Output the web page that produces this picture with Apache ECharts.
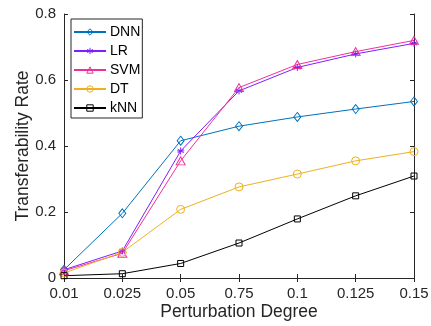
<!DOCTYPE html>
<html>
<head>
<meta charset="utf-8">
<script src="https://cdn.jsdelivr.net/npm/echarts@6/dist/echarts.min.js"></script>
<style>
  html, body { margin: 0; padding: 0; background: #fff; }
  #chart { width: 431px; height: 326px; }
</style>
</head>
<body>
<div id="chart"></div>
<script>
const degrees = ["0.01", "0.025", "0.05", "0.75", "0.1", "0.125", "0.15"];
const dnn = [0.025, 0.196, 0.416, 0.46, 0.488, 0.512, 0.535];
const lr = [0.025, 0.082, 0.385, 0.567, 0.638, 0.679, 0.711];
const svm = [0.022, 0.075, 0.355, 0.577, 0.647, 0.686, 0.72];
const dt = [0.015, 0.078, 0.208, 0.276, 0.315, 0.355, 0.383];
const knn = [0.007, 0.013, 0.044, 0.106, 0.179, 0.249, 0.309];
const yTicks = [0, 0.2, 0.4, 0.6, 0.8];

const FONT = "Liberation Sans, Arial, sans-serif";
const asterisk = "path://M0,-5L0,5M-4.33,-2.5L4.33,2.5M-4.33,2.5L4.33,-2.5M-5,0L5,0";
const colors = { DNN: "#0072BD", LR: "#7F1FFF", SVM: "#F0309A", DT: "#EDB120", kNN: "#000000" };

function makeSeries(name, data, symbol, size) {
  return {
    name: name,
    type: "line",
    data: data,
    symbol: symbol,
    symbolSize: size,
    showAllSymbol: true,
    lineStyle: { color: colors[name], width: 1 },
    itemStyle: { color: "rgba(0,0,0,0)", borderColor: colors[name], borderWidth: 1 },
    emphasis: { disabled: true },
    animation: false
  };
}

const chart = echarts.init(document.getElementById("chart"));
const axisText = { color: "#262626", fontFamily: FONT, fontSize: 15 };
chart.setOption({
  backgroundColor: "#fff",
  grid: { left: 64, right: 17, top: 14, bottom: 48, outerBoundsMode: "none" },
  legend: {
    orient: "vertical",
    left: 71,
    top: 19,
    padding: [6, 2, 3, 2],
    itemGap: 5,
    itemWidth: 32,
    itemHeight: 8,
    backgroundColor: "#fff",
    borderColor: "#262626",
    borderWidth: 1,
    textStyle: { color: "#000", fontFamily: FONT, fontSize: 14, lineHeight: 14, padding: [0, 0, 0, -1] },
    data: ["DNN", "LR", "SVM", "DT", "kNN"].map(function (n) {
      return { name: n, itemStyle: { color: "rgba(0,0,0,0)", borderColor: colors[n], borderWidth: 1 } };
    })
  },
  xAxis: [
    {
      type: "category",
      data: degrees,
      boundaryGap: false,
      name: "Perturbation Degree",
      nameLocation: "middle",
      nameGap: 25,
      nameMoveOverlap: false,
      nameTextStyle: { color: "#262626", fontFamily: FONT, fontSize: 17.5 },
      axisLine: { lineStyle: { color: "#262626", width: 1 } },
      axisTick: { inside: true, length: 4, alignWithLabel: true, lineStyle: { color: "#262626" } },
      axisLabel: Object.assign({ margin: 8, interval: 0 }, axisText),
      splitLine: { show: false }
    },
    {
      type: "category",
      data: degrees,
      boundaryGap: false,
      position: "top",
      axisLine: { lineStyle: { color: "#262626", width: 1 } },
      axisTick: { inside: true, length: 4, lineStyle: { color: "#262626" } },
      axisLabel: { show: false },
      splitLine: { show: false }
    }
  ],
  yAxis: [
    {
      type: "value",
      min: 0,
      max: 0.8,
      interval: 0.2,
      name: "Transferability Rate",
      nameLocation: "middle",
      nameGap: 32,
      nameMoveOverlap: false,
      nameTextStyle: { color: "#262626", fontFamily: FONT, fontSize: 17.5 },
      axisLine: { show: true, lineStyle: { color: "#262626", width: 1 } },
      axisTick: { show: true, inside: true, length: 4, lineStyle: { color: "#262626" } },
      axisLabel: Object.assign({
        margin: 8,
        formatter: function (v) {
          const t = yTicks.find(function (k) { return Math.abs(k - v) < 1e-9; });
          return t === 0 ? "0" : String(t);
        }
      }, axisText),
      splitLine: { show: false }
    },
    {
      type: "value",
      min: 0,
      max: 0.8,
      interval: 0.2,
      position: "right",
      axisLine: { show: true, lineStyle: { color: "#262626", width: 1 } },
      axisTick: { show: true, inside: true, length: 4, lineStyle: { color: "#262626" } },
      axisLabel: { show: false },
      splitLine: { show: false }
    }
  ],
  series: [
    makeSeries("DNN", dnn, "diamond", [7, 9]),
    makeSeries("LR", lr, asterisk, 7),
    makeSeries("SVM", svm, "triangle", [9, 8]),
    makeSeries("DT", dt, "circle", 8),
    makeSeries("kNN", knn, "rect", 6)
  ]
});
</script>
</body>
</html>
